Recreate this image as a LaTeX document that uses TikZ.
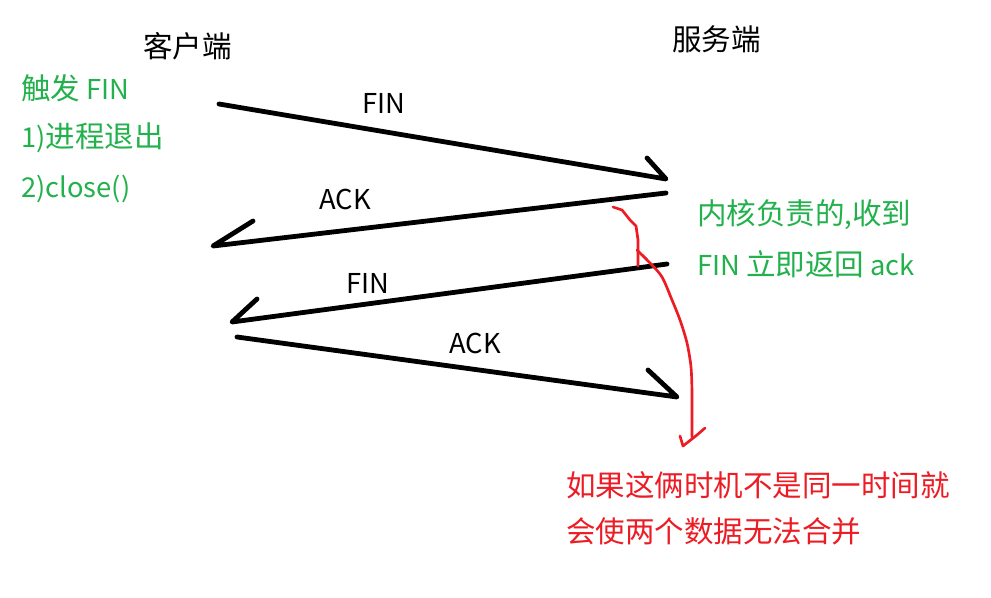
\documentclass[tikz,border=0pt]{standalone}
\usepackage{fontspec}
\setmainfont{Noto Sans CJK SC}
\newfontfamily\cjk[Scale=1.08]{Noto Sans CJK SC}
\definecolor{pgreen}{HTML}{22B14C}
\definecolor{pred}{HTML}{ED1C24}
\begin{document}
\begin{tikzpicture}[x=0.75pt,y=-0.75pt,
  txt/.style={inner sep=0pt,font=\fontsize{20.5}{24}\selectfont},
  gtxt/.style={txt,text=pgreen,anchor=west},
  rtxt/.style={txt,text=pred,anchor=west},
  lbl/.style={txt},
  msg/.style={draw=black,line width=3.6pt,line cap=round,line join=round},
  note/.style={draw=pred,line width=2pt,line cap=round,line join=round}]
\useasboundingbox (0,0) rectangle (991,598);
\fill[white] (0,0) rectangle (991,598);
% headers
\node[txt,anchor=west] (client) at (143,46.5) {\cjk 客户端};
\node[txt,anchor=west] (server) at (672,39) {\cjk 服务端};
% green notes
\node[gtxt] (t1) at (21,88) {{\cjk 触发} FIN};
\node[gtxt] (t2) at (21,138) {1){\cjk 进程退出}};
\node[gtxt] (t3) at (21,189) {2)close()};
\node[gtxt] (s1) at (697,215) {{\cjk 内核负责的},{\cjk 收到}};
\node[gtxt] (s2) at (697,264) {FIN {\cjk 立即返回} ack};
% red notes
\node[rtxt] (r1) at (566,485) {\cjk 如果这俩时机不是同一时间就};
\node[rtxt] (r2) at (566,531) {\cjk 会使两个数据无法合并};
% labels
\node[lbl] (l1) at (384,103) {FIN};
\node[lbl] (l2) at (345,199) {ACK};
\node[lbl] (l3) at (368,283) {FIN};
\node[lbl] (l4) at (475,343) {ACK};
% endpoints
\coordinate (a1s) at (219,104); \coordinate (a1e) at (666,179); \coordinate (a1b) at (647,158);
\coordinate (a2s) at (666,193); \coordinate (a2e) at (213,246); \coordinate (a2b) at (253,221);
\coordinate (a3s) at (667,264); \coordinate (a3e) at (232,322); \coordinate (a3b) at (257,299);
\coordinate (a4s) at (237,337); \coordinate (a4e) at (677,397); \coordinate (a4b) at (648,370);
\draw[msg] (a1s) -- (a1e) -- (a1b);
\draw[msg] (a2s) -- (a2e) -- (a2b);
\draw[msg] (a3s) -- (a3e) -- (a3b);
\draw[msg] (a4s) -- (a4e) -- (a4b);
% red hand-drawn curve
\coordinate (rc1) at (613,207);
\coordinate (rc2) at (692,437);
\draw[note] (rc1) -- (622,210) -- (630,220) -- (636,226) -- (638,240) -- (638,266);
\draw[note] plot[smooth] coordinates {(637,250) (650,263) (662,277) (672,300) (680,320) (687,343) (691,367) (692,393) (692,420) (rc2)};
\coordinate (rh1) at (680,436); \coordinate (rht) at (683,446); \coordinate (rh2) at (697,435); \coordinate (rh3) at (705,428);
\draw[note] (rh1) -- (rht) -- (rh2) -- (rh3);
\end{tikzpicture}
\end{document}
